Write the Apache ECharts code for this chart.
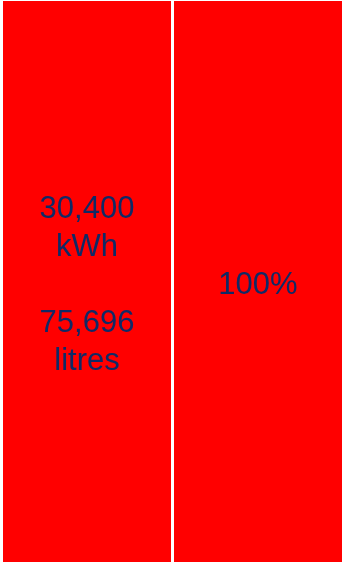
<!DOCTYPE html>
<html>
<head>
<meta charset="utf-8">
<script src="https://cdn.jsdelivr.net/npm/echarts@6/dist/echarts.min.js"></script>
<style>
  html, body { margin: 0; padding: 0; background: #fff; }
  #chart { width: 345px; height: 563px; }
</style>
</head>
<body>
<div id="chart"></div>
<script>
// 数据
const categories = ["energy", "share"];
const barValues = [100, 100];
const energyKwh = [30400];
const energyLitres = [75696];
const sharePercent = [100];

const fmt = (v) => v.toLocaleString("en-US");

const labelTexts = [
  fmt(energyKwh[0]) + "\nkWh\n\n" + fmt(energyLitres[0]) + "\nlitres",
  sharePercent[0] + "%",
];

const chart = echarts.init(document.getElementById("chart"));

const options = {
  animation: false,
  grid: {
    top: 1,
    bottom: 1,
    left: 1.5,
    right: 1.5,
  },
  xAxis: {
    type: "category",
    data: categories,
    show: false,
  },
  yAxis: {
    type: "value",
    min: 0,
    max: 100,
    show: false,
  },
  series: [
    {
      type: "bar",
      barWidth: 168,
      data: barValues,
      itemStyle: {
        color: "#ff0000",
      },
      label: {
        show: true,
        position: "inside",
        offset: [0, 4],
        formatter: (p) => labelTexts[p.dataIndex],
        color: "#0f2a66",
        fontFamily: "Liberation Sans",
        fontSize: 31,
        lineHeight: 38,
      },
    },
  ],
};

chart.setOption(options);

window.addEventListener("resize", () => {
  chart.resize();
});
</script>
</body>
</html>
